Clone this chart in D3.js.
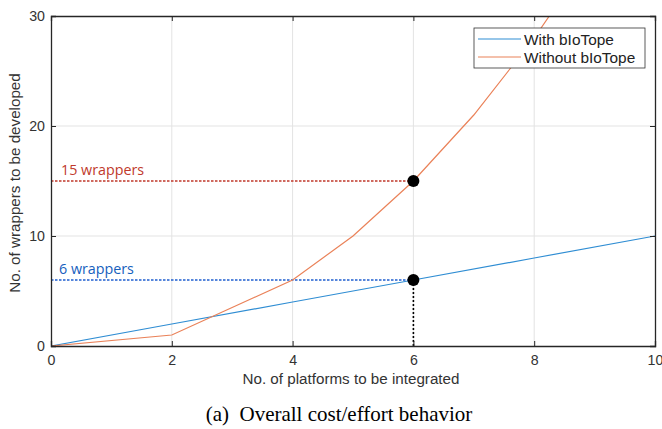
<!DOCTYPE html>
<html>
<head>
<meta charset="utf-8">
<script src="https://cdn.jsdelivr.net/npm/d3@7"></script>
<style>
body { margin: 0; background: #fff; }
svg { display: block; }
</style>
</head>
<body>
<script>
// platforms vs wrappers
var withX = [0, 2, 4, 6, 8, 10];
var withY = [0, 2, 4, 6, 8, 10];
var withoutX = [0, 2, 4, 5, 6, 7, 8, 9];
var withoutY = [0, 1, 6, 10, 15, 21, 28, 36];
var xTicks = [0, 2, 4, 6, 8, 10];
var yTicks = [0, 10, 20, 30];
var seriesNames = ["With bIoTope", "Without bIoTope"];
var marked = [{x: 6, y: 15, label: "15 wrappers"}, {x: 6, y: 6, label: "6 wrappers"}];

var W = 662, H = 429;
var pLeft = 51, pRight = 655, pTop = 16, pBottom = 346;

var svg = d3.select("body").append("svg").attr("width", W).attr("height", H);

var x = d3.scaleLinear().domain([0, 10]).range([pLeft, pRight]);
var y = d3.scaleLinear().domain([0, 30]).range([pBottom, pTop]);

// grid
svg.append("g").selectAll("line").data(xTicks.slice(1, -1)).join("line")
    .attr("x1", d => x(d)).attr("x2", d => x(d))
    .attr("y1", pTop).attr("y2", pBottom)
    .attr("stroke", "#e3e3e3").attr("stroke-width", 1);
svg.append("g").selectAll("line").data(yTicks.slice(1, -1)).join("line")
    .attr("y1", d => y(d)).attr("y2", d => y(d))
    .attr("x1", pLeft).attr("x2", pRight)
    .attr("stroke", "#e3e3e3").attr("stroke-width", 1);

svg.append("clipPath").attr("id", "clip").append("rect")
    .attr("x", pLeft).attr("y", pTop).attr("width", pRight - pLeft).attr("height", pBottom - pTop);

var line = d3.line().x(d => x(d[0])).y(d => y(d[1]));

var plot = svg.append("g").attr("clip-path", "url(#clip)");

// dashed guides
plot.append("line")
    .attr("x1", x(0)).attr("x2", x(marked[0].x))
    .attr("y1", y(marked[0].y)).attr("y2", y(marked[0].y))
    .attr("stroke", "#c0392b").attr("stroke-width", 1.3).attr("stroke-dasharray", "2.5,1.5");
plot.append("line")
    .attr("x1", x(0)).attr("x2", x(marked[1].x))
    .attr("y1", y(marked[1].y)).attr("y2", y(marked[1].y))
    .attr("stroke", "#1f5fcf").attr("stroke-width", 1.3).attr("stroke-dasharray", "2.5,1.5");
plot.append("line")
    .attr("x1", x(marked[1].x)).attr("x2", x(marked[1].x))
    .attr("y1", y(marked[1].y)).attr("y2", y(0))
    .attr("stroke", "#000").attr("stroke-width", 1.6).attr("stroke-dasharray", "2,2");

plot.append("path")
    .attr("d", line(withX.map((v, i) => [v, withY[i]])))
    .attr("fill", "none").attr("stroke", "#2f8dd3").attr("stroke-width", 1.2);
plot.append("path")
    .attr("d", line(withoutX.map((v, i) => [v, withoutY[i]])))
    .attr("fill", "none").attr("stroke", "#ea8259").attr("stroke-width", 1.2);

svg.append("g").selectAll("circle").data(marked).join("circle")
    .attr("cx", d => x(d.x)).attr("cy", d => y(d.y)).attr("r", 6)
    .attr("fill", "#000");

svg.append("text").attr("x", 61).attr("y", y(marked[0].y) - 6)
    .attr("font-family", "Open Sans, sans-serif").attr("font-size", 14.3)
    .attr("fill", "#c0392b").text(marked[0].label);
svg.append("text").attr("x", 59).attr("y", y(marked[1].y) - 6)
    .attr("font-family", "Open Sans, sans-serif").attr("font-size", 14.3)
    .attr("fill", "#1560bd").text(marked[1].label);

// axes
var axisColor = "#262626";
var xAxis = svg.append("g").attr("transform", "translate(0," + pBottom + ")")
    .call(d3.axisBottom(x).tickValues(xTicks).tickSize(-5).tickPadding(9));
var xAxisTop = svg.append("g").attr("transform", "translate(0," + pTop + ")")
    .call(d3.axisTop(x).tickValues(xTicks).tickSize(-5).tickFormat(""));
var yAxis = svg.append("g").attr("transform", "translate(" + pLeft + ",0)")
    .call(d3.axisLeft(y).tickValues(yTicks).tickSize(-5).tickPadding(6));
var yAxisR = svg.append("g").attr("transform", "translate(" + pRight + ",0)")
    .call(d3.axisRight(y).tickValues(yTicks).tickSize(-5).tickFormat(""));
[xAxis, xAxisTop, yAxis, yAxisR].forEach(function(a) {
  a.select(".domain").attr("stroke", axisColor).attr("stroke-width", 1.3);
  a.selectAll(".tick line").attr("stroke", axisColor);
  a.selectAll("text").attr("fill", "#333").attr("font-family", "Liberation Sans, Arial, sans-serif").attr("font-size", 14.2);
});

// axis titles
svg.append("text").attr("x", 351).attr("y", 384)
    .attr("text-anchor", "middle").attr("font-family", "Liberation Sans, Arial, sans-serif")
    .attr("font-size", 15.2).attr("fill", "#333").text("No. of platforms to be integrated");
svg.append("text").attr("transform", "translate(20,183) rotate(-90)")
    .attr("text-anchor", "middle").attr("font-family", "Liberation Sans, Arial, sans-serif")
    .attr("font-size", 15.2).attr("fill", "#333").text("No. of wrappers to be developed");

// legend
var lg = svg.append("g").attr("transform", "translate(474,28)");
lg.append("rect").attr("width", 171).attr("height", 40)
    .attr("fill", "#fff").attr("stroke", "#333").attr("stroke-width", 0.8);
var colors = ["#2f8dd3", "#ea8259"];
seriesNames.forEach(function(n, i) {
  var yy = 11 + i * 18;
  lg.append("line").attr("x1", 4).attr("x2", 47).attr("y1", yy).attr("y2", yy)
      .attr("stroke", colors[i]).attr("stroke-width", 1.2);
  lg.append("text").attr("x", 50).attr("y", yy + 5.5)
      .attr("font-family", "Liberation Sans, Arial, sans-serif").attr("font-size", 15.4)
      .attr("fill", "#222").text(n);
});

// caption
svg.append("text").attr("x", 339).attr("y", 421).attr("text-anchor", "middle")
    .attr("font-family", "Liberation Serif, Times New Roman, serif").attr("font-size", 21)
    .attr("fill", "#000").attr("xml:space", "preserve").text("(a)  Overall cost/effort behavior");
</script>
</body>
</html>
